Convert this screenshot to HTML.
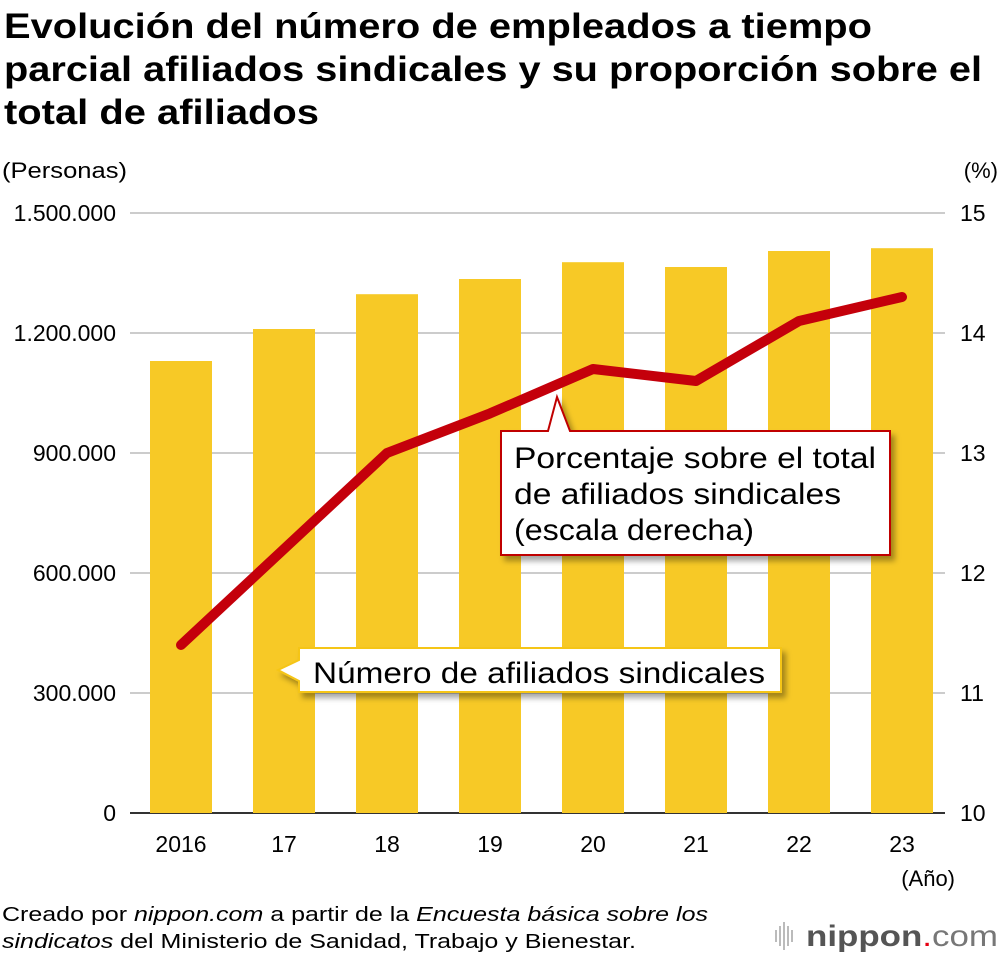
<!DOCTYPE html>
<html><head><meta charset="utf-8">
<style>
body{margin:0;background:#fff;width:1000px;height:956px;overflow:hidden;font-family:"Liberation Sans",Arial,sans-serif;}
</style></head>
<body>
<svg width="1000" height="956" xmlns="http://www.w3.org/2000/svg" font-family="Liberation Sans, Arial, sans-serif">
<defs><filter id="sh" x="-10%" y="-10%" width="130%" height="140%"><feDropShadow dx="4" dy="5" stdDeviation="3" flood-color="#000" flood-opacity="0.35"/></filter></defs>
<g font-size="35" font-weight="bold" fill="#000" lengthAdjust="spacingAndGlyphs">
<text x="4" y="38" textLength="868" lengthAdjust="spacingAndGlyphs">Evolución del número de empleados a tiempo</text>
<text x="4" y="81" textLength="978" lengthAdjust="spacingAndGlyphs">parcial afiliados sindicales y su proporción sobre el</text>
<text x="4" y="124" textLength="315" lengthAdjust="spacingAndGlyphs">total de afiliados</text>
</g>
<text x="2" y="178" font-size="22" textLength="125" lengthAdjust="spacingAndGlyphs">(Personas)</text>
<text x="998" y="178" font-size="22" text-anchor="end">(%)</text>
<g id="grid"></g><g id="bars"></g><g id="axes"></g>
<g id="line"></g>
<g filter="url(#sh)">
<path d="M501,431 L548,431 L557,397 L570,431 L890,431 L890,555 L501,555 Z" fill="#fff" stroke="#c00000" stroke-width="2"/>
</g>
<g font-size="30" fill="#000">
<text x="514" y="468" textLength="362" lengthAdjust="spacingAndGlyphs">Porcentaje sobre el total</text>
<text x="514" y="504" textLength="327" lengthAdjust="spacingAndGlyphs">de afiliados sindicales</text>
<text x="514" y="540" textLength="240" lengthAdjust="spacingAndGlyphs">(escala derecha)</text>
</g>
<g filter="url(#sh)">
<path d="M299,648 L781,648 L781,692 L299,692 L299,681 L278,670 L299,660 Z" fill="#fff" stroke="#f5c518" stroke-width="2"/>
</g>
<text x="313" y="683" font-size="30" textLength="452" lengthAdjust="spacingAndGlyphs">Número de afiliados sindicales</text>
<text x="955" y="886" font-size="22" text-anchor="end">(Año)</text>
<g font-size="20">
<text x="2" y="921" textLength="706" lengthAdjust="spacingAndGlyphs">Creado por <tspan font-style="italic">nippon.com</tspan> a partir de la <tspan font-style="italic">Encuesta básica sobre los</tspan></text>
<text x="2" y="948" textLength="634" lengthAdjust="spacingAndGlyphs"><tspan font-style="italic">sindicatos</tspan> del Ministerio de Sanidad, Trabajo y Bienestar.</text>
</g>
<g>
<g stroke="#bbb" stroke-width="2"><line x1="776" y1="930" x2="776" y2="942"/><line x1="780" y1="926" x2="780" y2="946"/><line x1="784" y1="922" x2="784" y2="950"/><line x1="788" y1="926" x2="788" y2="946"/><line x1="792" y1="930" x2="792" y2="942"/></g>
<text x="806" y="946" font-size="30" fill="#555" textLength="192" lengthAdjust="spacingAndGlyphs"><tspan font-weight="bold">nippon</tspan><tspan fill="#e60012">.</tspan><tspan fill="#777">com</tspan></text>
</g>
</svg>
<script>
const years=["2016","17","18","19","20","21","22","23"];
const members=[1130000,1210000,1297000,1335000,1377000,1365000,1405000,1412000];
const percent=[11.4,12.2,13.0,13.33,13.7,13.6,14.1,14.3];
const leftTicks=[0,300000,600000,900000,1200000,1500000];
const leftLabels=["0","300.000","600.000","900.000","1.200.000","1.500.000"];
const rightTicks=[10,11,12,13,14,15];
const NS="http://www.w3.org/2000/svg";
const y0=813,y1=213,xL=130,xR=945;
const yL=v=>y0-(v/1500000)*(y0-y1);
const yR=v=>y0-((v-10)/5)*(y0-y1);
const xC=i=>181+i*103;
function mk(t,a,p){const e=document.createElementNS(NS,t);for(const k in a)e.setAttribute(k,a[k]);p.appendChild(e);return e;}
const grid=document.getElementById('grid'),bars=document.getElementById('bars'),axes=document.getElementById('axes'),line=document.getElementById('line');
leftTicks.forEach((v,i)=>{
 const g=mk('line',{x1:xL,x2:xR,y1:yL(v),y2:yL(v),stroke:i==0?'#333':'#ccc','stroke-width':2},grid);
 
 
 const t=mk('text',{x:116,y:yL(v)+8,'font-size':23,'text-anchor':'end'},axes);t.textContent=leftLabels[i];
 
 
});
rightTicks.forEach(v=>{
 const t=mk('text',{x:960,y:yR(v)+8,'font-size':23},axes);t.textContent=v;
 
 
});
years.forEach((y,i)=>{
 const r=mk('rect',{x:xC(i)-31,y:yL(members[i]),width:62,height:y0-yL(members[i]),fill:'#f7c926'},bars);
 
 
 const t=mk('text',{x:xC(i),y:852,'font-size':23,'text-anchor':'middle'},axes);t.textContent=y;
 
 
});
mk('line',{x1:xL,x2:xR,y1:y0,y2:y0,stroke:'#333','stroke-width':2},grid);
const pts=percent.map((v,i)=>xC(i)+','+yR(v)).join(' ');
const pl=mk('polyline',{points:pts,fill:'none',stroke:'#c4000b','stroke-width':10,'stroke-linejoin':'round','stroke-linecap':'round'},line);


</script>
</body></html>
